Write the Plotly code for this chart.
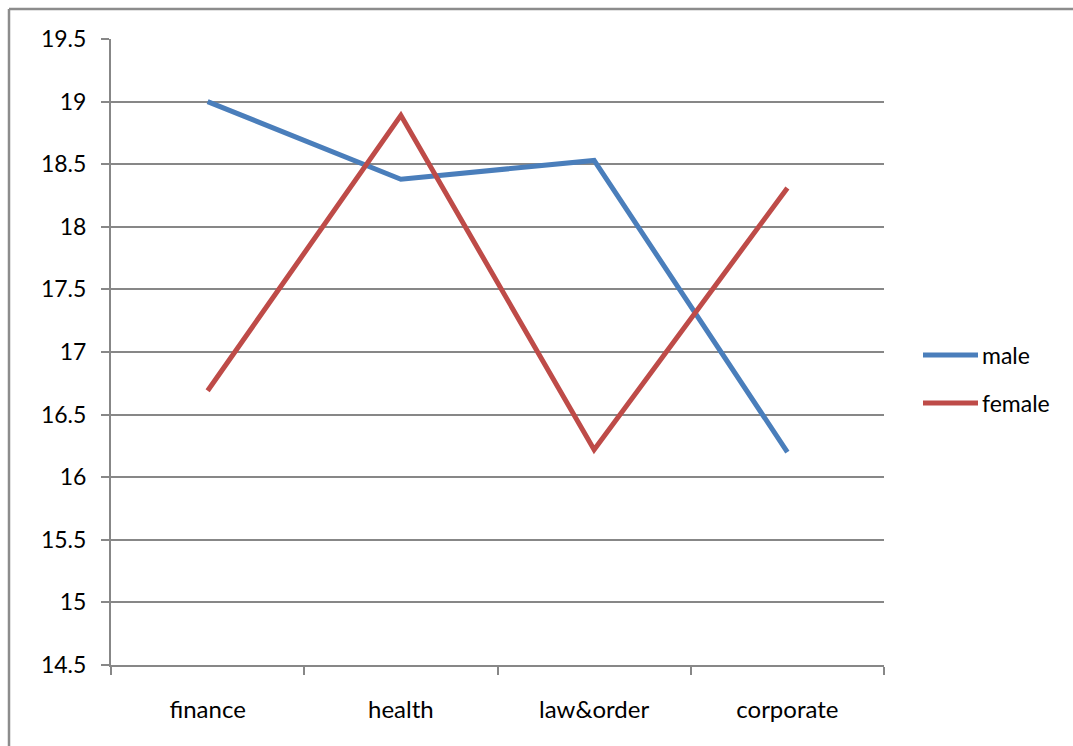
import plotly.graph_objects as go

categories = ["finance", "health", "law&order", "corporate"]
male = [19.0, 18.38, 18.53, 16.2]
female = [16.69, 18.89, 16.22, 18.31]

series = [("male", male, "#4a7ebb"), ("female", female, "#be4b48")]

FONT = "Lato"
GRID = "#878787"

# plot area in pixels: x 111..884, y 39..665
L, R, T, B = 111, 884, 39, 665


def px(x):
    return (x - L) / (R - L)


def py(y):
    return (B - y) / (B - T)


fig = go.Figure()
for name, vals, color in series:
    fig.add_trace(go.Scatter(x=categories, y=vals, mode="lines", name=name,
                             showlegend=False,
                             line=dict(color=color, width=5)))

shapes = [
    dict(type="line", xref="paper", yref="paper",
         x0=px(9), x1=1.3, y0=py(9), y1=py(9),
         line=dict(color="#8c8c8c", width=2.5)),
    dict(type="line", xref="paper", yref="paper",
         x0=px(9), x1=px(9), y0=py(9), y1=-0.2,
         line=dict(color="#8c8c8c", width=2.5)),
]
annotations = []
for i, (name, vals, color) in enumerate(series):
    yy = py(355 + 48 * i)
    shapes.append(dict(type="line", xref="paper", yref="paper",
                       x0=px(923), x1=px(978), y0=yy, y1=yy,
                       line=dict(color=color, width=5)))
    annotations.append(dict(xref="paper", yref="paper", x=px(980), y=yy,
                            xanchor="left", yanchor="middle", showarrow=False,
                            text=name, font=dict(size=23)))

fig.update_layout(
    width=1073, height=746,
    margin=dict(l=L, r=1073 - R, t=T, b=746 - B),
    paper_bgcolor="white", plot_bgcolor="white",
    font=dict(family=FONT, size=23, color="#000000"),
    showlegend=False,
    xaxis=dict(type="category", showgrid=False, showline=True,
               linecolor=GRID, linewidth=2, ticks="outside",
               tickson="boundaries", ticklen=8, tickcolor=GRID,
               tickwidth=2, ticklabelstandoff=22,
               range=[-0.5, 3.5], zeroline=False,
               tickfont=dict(size=24)),
    yaxis=dict(range=[14.5, 19.5], dtick=0.5, showgrid=True,
               gridcolor=GRID, gridwidth=1.5, showline=True,
               linecolor=GRID, linewidth=2, ticks="outside", ticklen=8,
               tickcolor=GRID, tickwidth=2, ticklabelstandoff=10,
               zeroline=False),
    shapes=shapes,
    annotations=annotations,
)

fig.write_html("out.html")
